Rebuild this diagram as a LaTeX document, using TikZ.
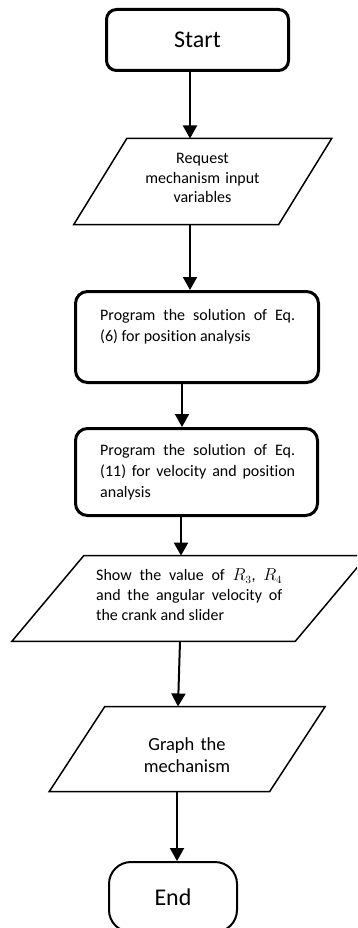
\documentclass[tikz,border=0pt]{standalone}
\usepackage{fontspec}
\setmainfont{Carlito}[Ligatures={NoCommon}]
\usetikzlibrary{arrows.meta,calc}
\newcommand\nohyph{\frenchspacing\hyphenpenalty=10000 \exhyphenpenalty=10000 }
\tikzset{
  termbox/.style={draw, line width=3pt, rounded corners=10pt, inner sep=0pt, font=\fontsize{24}{29}\selectfont},
  procbox/.style={draw, line width=3pt, rounded corners=12pt, inner sep=0pt},
  endbox/.style={draw, line width=2pt, rounded corners=22pt, inner sep=0pt, font=\fontsize{24}{29}\selectfont},
  paraframe/.style={inner sep=0pt},
  paraline/.style={line width=1.5pt, line join=miter},
  jtext/.style={inner sep=0pt, align=justify, anchor=base west, font=\fontsize{16}{21}\selectfont},
  ctext/.style={inner sep=0pt, align=center, anchor=base},
  arr/.style={line width=2pt, -{Triangle[length=13pt,width=14pt]}}
}
\begin{document}
\begin{tikzpicture}[x=1pt,y=-1pt]
\useasboundingbox (0,0) rectangle (357,928);
\clip (0,0) rectangle (357,928);

% Start
\node[termbox, minimum width=182pt, minimum height=61pt] (start) at (197.5,40) {Start};

% Input 1
\node[paraframe, minimum width=204.5pt, minimum height=85.6pt] (in1) at (202.75,181.5) {};
\draw[paraline] ([xshift=26.5pt]in1.north west) -- ([xshift=26.5pt]in1.north east)
  -- ([xshift=-26.5pt]in1.south east) -- ([xshift=-26.5pt]in1.south west) -- cycle;
\node[ctext, text width=160pt, font=\fontsize{16}{19.5}\selectfont] (in1t) at (202.5,163.7)
  {Request\\mechanism input\\variables};

% Process 1
\node[procbox, minimum width=243pt, minimum height=91pt] (p1) at (197,337) {};
\node[jtext, text width=195pt] (p1t) at (100,320.7)
  {\nohyph Program the solution of Eq.\linebreak (6) for position analysis};

% Process 2
\node[procbox, minimum width=242pt, minimum height=87pt] (p2) at (196.5,472) {};
\node[jtext, text width=195pt] (p2t) at (100,455.7)
  {\nohyph Program the solution of Eq.\linebreak (11) for velocity and position\linebreak analysis};

% Input 2
\node[paraframe, minimum width=283pt, minimum height=85.4pt] (in2) at (189.5,598.5) {};
\draw[paraline] ([xshift=36pt]in2.north west) -- ([xshift=36pt]in2.north east)
  -- ([xshift=-36pt]in2.south east) -- ([xshift=-36pt]in2.south west) -- cycle;
\node[jtext, text width=186pt, font=\fontsize{16}{20}\selectfont] (in2t) at (96,580.7)
  {\nohyph Show the value of $R_3$, $R_4$\linebreak and the angular velocity of\linebreak the crank and slider};

% Input 3
\node[paraframe, minimum width=220pt, minimum height=84.6pt] (in3) at (187.25,749) {};
\draw[paraline] ([xshift=27.75pt]in3.north west) -- ([xshift=27.75pt]in3.north east)
  -- ([xshift=-27.75pt]in3.south east) -- ([xshift=-27.75pt]in3.south west) -- cycle;
\node[ctext, text width=150pt, font=\fontsize{18.5}{22}\selectfont] (in3t) at (187,750.3)
  {Graph the\\mechanism};

% End
\node[endbox, minimum width=128pt, minimum height=70pt] (end) at (173,897) {End};

% Connectors
\draw[arr] ([xshift=-7.5pt]start.south) -- ([xshift=-7.5pt]start.south |- in1.north);
\draw[arr] ([xshift=-12.75pt]in1.south) -- ([xshift=-12.75pt]in1.south |- p1.north);
\draw[arr] ([xshift=-15pt]p1.south) -- ([xshift=-15pt]p1.south |- p2.north);
\draw[arr] ([xshift=-15.5pt]p2.south) -- ([xshift=-15.5pt]p2.south |- in2.north);
\draw[arr] ([xshift=-9.5pt]in2.south) -- ([xshift=-9.25pt]in3.north);
\draw[arr] ([xshift=-10.25pt]in3.south) -- ([xshift=-10.25pt]in3.south |- end.north);
\end{tikzpicture}
\end{document}
